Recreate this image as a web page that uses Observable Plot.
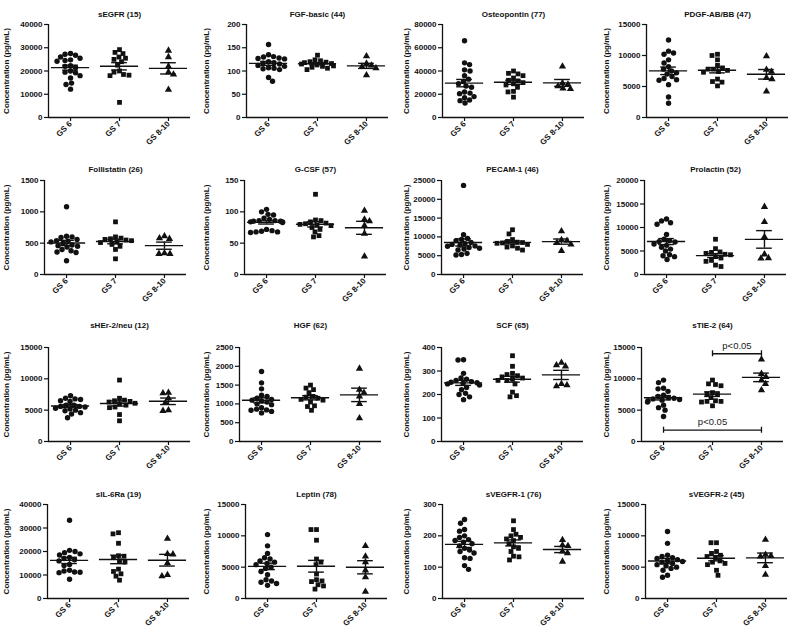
<!DOCTYPE html>
<html><head><meta charset="utf-8">
<script src="https://cdn.jsdelivr.net/npm/d3@7"></script>
<script src="https://cdn.jsdelivr.net/npm/@observablehq/plot@0.6"></script>
<style>
body{margin:0;background:#fff;}
#chart{position:relative;width:800px;height:635px;overflow:hidden;background:#fff;}
.panel{position:absolute;}
.panel svg{overflow:visible;}
</style></head><body><div id="chart"></div>
<script>
const groups = ["GS 6", "GS 7", "GS 8-10"];
const symbols = ["circle", "square", "triangle"];
const titles = ["sEGFR (15)", "FGF-basic (44)", "Osteopontin (77)", "PDGF-AB/BB (47)",
  "Follistatin (26)", "G-CSF (57)", "PECAM-1 (46)", "Prolactin (52)",
  "sHEr-2/neu (12)", "HGF (62)", "SCF (65)", "sTIE-2 (64)",
  "sIL-6Ra (19)", "Leptin (78)", "sVEGFR-1 (76)", "sVEGFR-2 (45)"];
const yLabel = "Concentration (pg/mL)";
const yMax = [40000, 200, 80000, 15000, 1500, 150, 25000, 20000, 15000, 2500, 400, 15000, 40000, 15000, 300, 15000];
const yStep = [10000, 50, 20000, 5000, 500, 50, 5000, 5000, 5000, 500, 100, 5000, 10000, 5000, 100, 5000];

const gs6 = [
  [27500,27200,26800,26000,25500,24800,24500,24200,21500,22300,22000,20000,19500,19200,18000,17000,14800,14200,12200],
  [157,135,131,130,128,127,126,120,118,117,115,112,110,107,106,105,103,86,78],
  [66000,47000,45500,41000,40000,36000,33000,31000,29000,27000,26000,22000,21000,20500,18000,17000,15000,14500,12500],
  [12500,10700,10400,10200,9300,8800,8200,7800,7500,7200,7000,6600,6300,6100,6000,5300,3300,2300],
  [1080,610,600,590,560,540,530,520,500,470,460,450,440,400,380,360,350,220],
  [104,100,96,95,90,88,86,85,84,83,86,85,84,72,70,69,68,67,68],
  [23700,10600,9600,9300,9000,8500,8200,8000,7800,7600,7500,7200,7000,6800,6500,5600,5300,5200],
  [11800,11400,11000,10700,8500,7500,7200,7000,6900,6500,6200,5800,5400,5000,4200,4000,3800,3200],
  [7300,6900,6800,6700,6500,6400,5800,5600,5800,5600,5500,5300,5200,5000,4900,4600,4400,3800],
  [1860,1560,1400,1230,1200,1150,1120,1100,1080,1050,1000,980,900,860,840,830,800,760],
  [348,347,290,270,265,260,255,252,250,248,245,240,230,220,205,200,190,178],
  [9800,9400,8500,8400,8000,7400,7200,7000,6900,6800,6700,6600,6500,6300,5800,5400,5000,4000],
  [33300,20500,20000,19500,19000,18500,17500,17000,16500,16000,14500,14000,12000,11700,11300,11200,11000,8200],
  [10200,8400,7200,6500,6300,6000,5800,5600,5400,5000,4800,4300,3800,3000,2800,2600,2400,2100],
  [252,240,220,215,200,195,188,185,180,175,168,160,155,150,145,130,128,105,93],
  [10700,8800,6900,6700,6500,6400,6200,6000,5900,5800,5600,5400,5200,5000,4800,4500,3700,3400]
];
const gs7 = [
  [29200,28000,27500,26000,25500,25000,24000,22500,20000,19500,18500,18000,18200,6500],
  [134,124,122,120,119,118,116,115,113,111,110,108,106,103],
  [40000,38000,37500,36000,34000,32000,31500,30000,29000,28000,26000,22500,22000,17500],
  [10200,10000,9300,8400,8000,7800,7600,7300,7800,7400,6200,5800,5700,5100],
  [840,600,580,570,560,550,540,520,510,480,450,400,250],
  [128,87,86,84,82,81,80,79,78,75,72,68,62,60],
  [11900,10800,9300,8800,8600,8500,8400,8300,8000,7600,7300,7000,6500],
  [7500,5500,4800,4700,4500,4300,4200,3800,3500,3000,2800,2000,1700],
  [9800,6900,6600,6500,6400,6300,6100,6000,5800,5500,5400,4300,3300],
  [1500,1420,1380,1300,1200,1180,1150,1120,1100,1050,950,930,830],
  [365,320,290,285,280,275,270,260,265,245,260,210,195,190],
  [9800,9200,9100,8900,7800,7600,7500,7000,6500,6400,6400,6300,5700],
  [28000,27500,23500,18200,18000,17500,16000,15500,12500,11500,10500,9500,7800],
  [11000,11000,9300,6300,5800,5400,3900,3000,2800,2700,2200,2000,1500],
  [248,220,205,200,195,190,185,175,165,160,150,135,133,123],
  [8900,8900,7500,7200,6900,6700,6500,6000,5800,5600,5400,4500,3700]
];
const gs810 = [
  [28800,26000,22000,19500,18500,12000],
  [132,116,112,109,106,91],
  [44000,29500,28500,27000,25000,24500],
  [9900,7700,7400,6400,6200,4200],
  [610,580,570,340,330,330],
  [102,88,85,78,65,29],
  [11500,9200,9000,8500,8000,6300],
  [14400,11200,8000,4300,3500,3400],
  [7800,7700,6900,6200,5000,4900],
  [1940,1380,1300,1200,1000,620],
  [335,325,320,245,240,235],
  [13100,10800,10300,9800,9200,8200],
  [25500,19000,18800,15000,10000,9500],
  [8400,6700,5800,4500,3400,1100],
  [187,170,168,150,145,118],
  [9400,7000,6700,6800,5200,3800]
];

// significance brackets (sTIE-2 panel)
const sigPanel = [11, 11];
const sigFrom = [1, 0];
const sigTo = [2, 2];
const sigY = [14000, 1800];
const sigText = ["p<0.05", "p<0.05"];

// layout
const axisLeft = [48,46,42,46, 44,44,41,44, 48,39,41,41, 47,45,42,45];
const rowTop = [24, 180, 347, 504];
const rowBottom = [117, 274, 441, 598];
const rowTitleGap = [13, 14, 25, 13];
const W = 142, MT = 30, MB = 45, R = 2.7;
const xDom = [-0.45, 2.45];
const pxX = W / (xDom[1] - xDom[0]);

function swarm(values, pxPerY, r) {
  const order = d3.range(values.length).sort((a, b) => values[b] - values[a]);
  const placed = [], off = new Array(values.length);
  const d = 2 * r - 0.2;
  let flip = 1;
  for (const i of order) {
    const y = values[i] * pxPerY;
    let best = null;
    for (let k = 0; k < 200 && best === null; k++) {
      const cands = k === 0 ? [0] : [flip * k * 0.5, -flip * k * 0.5];
      for (const c of cands) {
        if (placed.every(p => (p.x - c) ** 2 + (p.y - y) ** 2 >= d * d)) { best = c; break; }
      }
    }
    flip = -flip;
    off[i] = Math.max(-16, Math.min(16, best)); placed.push({x: off[i], y});
  }
  return off;
}

const chart = document.getElementById("chart");
for (let p = 0; p < 16; p++) {
  const row = Math.floor(p / 4), col = p % 4;
  const fh = rowBottom[row] - rowTop[row];
  const sets = [gs6[p], gs7[p], gs810[p]];
  const pts = [];
  sets.forEach((arr, g) => {
    const offs = swarm(arr, fh / yMax[p], R);
    arr.forEach((v, j) => pts.push({g, v, x: g + offs[j] / pxX}));
  });
  const stats = sets.map((arr, g) => {
    const m = d3.mean(arr), se = d3.deviation(arr) / Math.sqrt(arr.length);
    return {g, m, se};
  });
  const sig = d3.range(sigPanel.length).filter(k => sigPanel[k] === p)
    .map(k => ({x1: sigFrom[k], x2: sigTo[k], y: sigY[k], t: sigText[k]}));
  const capY = 3 * yMax[p] / fh;
  const ticks = d3.range(0, yMax[p] + yStep[p] / 2, yStep[p]);
  const ml = axisLeft[p];
  const svg = Plot.plot({
    width: 200, height: MT + fh + MB,
    marginTop: MT, marginBottom: MB, marginLeft: ml, marginRight: 200 - ml - W,
    x: {domain: xDom, axis: null},
    y: {domain: [0, yMax[p]], axis: null},
    style: {fontFamily: "'Liberation Sans', Arial, sans-serif", fontSize: "8px", fontWeight: "bold", color: "#111", background: "transparent"},
    marks: [
      Plot.axisY({ticks, tickFormat: d => String(d), tickSize: 4, tickPadding: 2, strokeWidth: 1.2,
        label: yLabel, labelAnchor: "center", labelArrow: "none", labelOffset: ml - 3}),
      Plot.axisX({ticks: [0, 1, 2], tickFormat: i => groups[i], tickSize: 4, tickPadding: 1, tickRotate: -45, strokeWidth: 1.2, label: null}),
      Plot.ruleY([0], {strokeWidth: 1.3}),
      Plot.ruleX([xDom[0]], {strokeWidth: 1.3}),
      Plot.dot(pts, {x: "x", y: "v", symbol: d => symbols[d.g], fill: "#111", r: R}),
      Plot.ruleY(stats, {y: "m", x1: d => d.g - 0.39, x2: d => d.g + 0.39, strokeWidth: 1.4}),
      Plot.ruleX(stats, {x: "g", y1: d => d.m - d.se, y2: d => d.m + d.se, strokeWidth: 1.4}),
      Plot.ruleY(stats, {y: d => d.m + d.se, x1: d => d.g - 0.16, x2: d => d.g + 0.16, strokeWidth: 1.4}),
      Plot.ruleY(stats, {y: d => d.m - d.se, x1: d => d.g - 0.16, x2: d => d.g + 0.16, strokeWidth: 1.4}),
      Plot.ruleY(sig, {y: "y", x1: "x1", x2: "x2", strokeWidth: 1.3}),
      Plot.ruleX(sig, {x: "x1", y1: d => d.y - capY, y2: d => d.y + capY, strokeWidth: 1.3}),
      Plot.ruleX(sig, {x: "x2", y1: d => d.y - capY, y2: d => d.y + capY, strokeWidth: 1.3}),
      Plot.text(sig, {x: d => (d.x1 + d.x2) / 2, y: "y", text: "t", dy: -8, fontSize: 9.5, fontWeight: "normal", fill: "#222"}),
      Plot.text([titles[p]], {frameAnchor: "top", dy: -rowTitleGap[row], fontSize: 8, fontWeight: "bold", fill: "#111"})
    ]
  });
  const div = document.createElement("div");
  div.className = "panel";
  div.style.left = (col * 200) + "px";
  div.style.top = (rowTop[row] - MT) + "px";
  div.appendChild(svg);
  chart.appendChild(div);
}
</script></body></html>
